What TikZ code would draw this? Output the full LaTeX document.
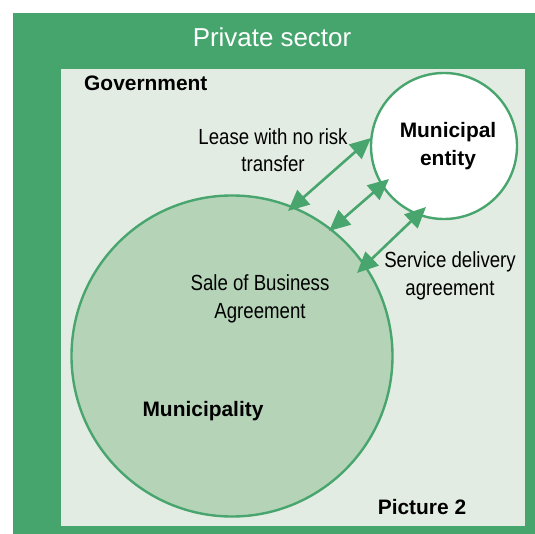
\documentclass[tikz,border=0pt]{standalone}
\usepackage{fontspec}
\setmainfont{Liberation Sans}
\newfontfamily\condfont[FakeStretch=0.85]{Liberation Sans}
\usetikzlibrary{arrows.meta}
\definecolor{outergreen}{HTML}{45A56D}
\definecolor{innerbg}{HTML}{E3ECE2}
\definecolor{bigfill}{HTML}{B4D3B7}
\definecolor{linegreen}{HTML}{48A56E}
\tikzset{
  lbl/.style={font=\condfont\fontsize{22}{27.5}\selectfont, align=center, text=black, inner sep=0pt},
  boldlbl/.style={font=\bfseries\fontsize{21}{28}\selectfont, align=center, text=black, inner sep=0pt},
  tiphead/.tip={Triangle[length=21bp,width=19bp]},
  conn/.style={draw=linegreen, line width=2.6pt, tiphead-tiphead},
}
\begin{document}
\begin{tikzpicture}[x=1bp,y=-1bp]
\useasboundingbox (0,0) rectangle (535,534);
\fill[white] (0,0) rectangle (535,534);
\fill[outergreen] (13,13) rectangle (535,534);
\fill[innerbg] (61,69) rectangle (525,526);
\node[circle, draw=linegreen, fill=bigfill, line width=2.4pt, minimum size=321bp, inner sep=0pt] (muni) at (232,356) {};
\node[circle, draw=linegreen, fill=white, line width=2.4pt, minimum size=146bp, inner sep=0pt] (entity) at (444,146) {};
\node[font=\fontsize{26}{30}\selectfont, text=white, inner sep=0pt] (priv) at (272,37) {Private sector};
\node[boldlbl, anchor=west] (gov) at (84,83) {Government};
\node[boldlbl] (entlbl) at (448,146) {Municipal\\entity};
\node[boldlbl] (munilbl) at (203,411) {Municipality};
\node[boldlbl] (pic) at (422,507) {Picture 2};
\node[lbl] (lease) at (273,150) {Lease with no risk\\transfer};
\node[lbl] (sale) at (260,299) {Sale of Business\\Agreement};
\node[lbl] (serv) at (450,276) {Service delivery\\agreement};
\coordinate (a1s) at (288,211);
\coordinate (a1e) at (371,138);
\coordinate (a2s) at (329,231);
\coordinate (a2e) at (389,179);
\coordinate (a3s) at (357,273);
\coordinate (a3e) at (426,207);
\draw[conn] (a1s) -- (a1e);
\draw[conn] (a2s) -- (a2e);
\draw[conn] (a3s) -- (a3e);
\end{tikzpicture}
\end{document}
